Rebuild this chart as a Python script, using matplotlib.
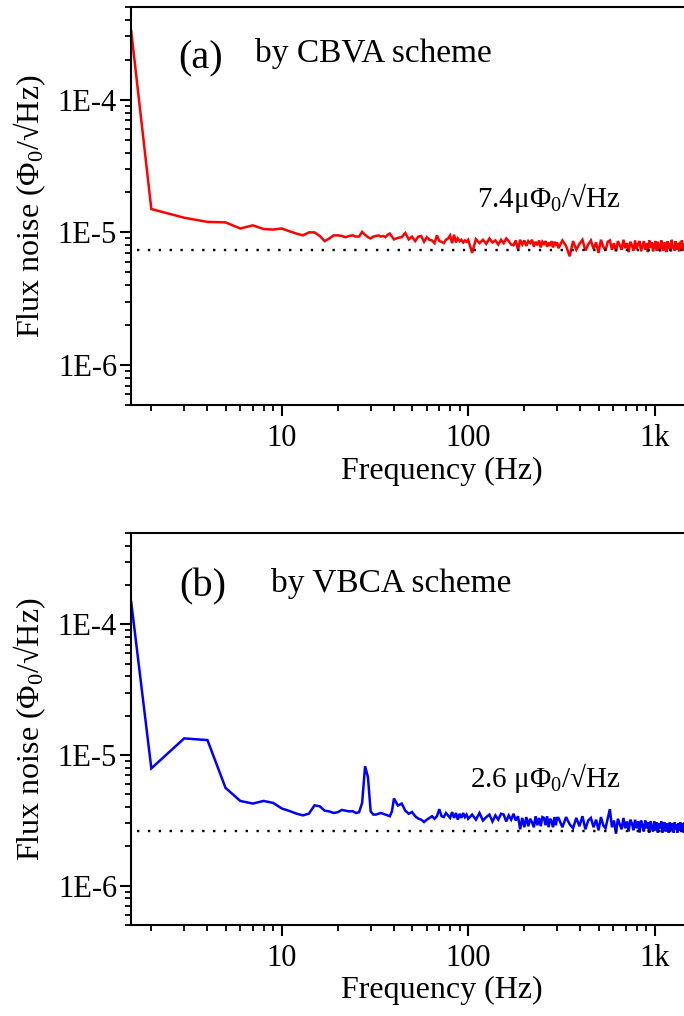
import numpy as np
import matplotlib
matplotlib.use("Agg")
import matplotlib.pyplot as plt
from matplotlib.ticker import FuncFormatter, NullFormatter, LogLocator, FixedLocator

plt.rcParams['font.family'] = ['Liberation Serif', 'DejaVu Serif']
plt.rcParams['mathtext.fontset'] = 'custom'
plt.rcParams['mathtext.rm'] = 'Liberation Serif'
plt.rcParams['mathtext.it'] = 'Liberation Serif:italic'
plt.rcParams['mathtext.bf'] = 'Liberation Serif:bold'

# Frequency grid of the spectra (Hz): fine at low frequency, coarser above
freq_low = np.concatenate([[1.56], np.arange(2, 41)])
freq_mid = np.arange(42, 101, 2)
freq_high = np.arange(105, 301, 5)
freq_top = np.arange(305, 1506, 15)
freq = np.concatenate([freq_low, freq_mid, freq_high, freq_top])

# Flux noise, in micro-Phi0 / sqrt(Hz)
cbva_noise = [
    330, 15.0, 12.9, 12.0, 11.9, 10.7, 11.3, 10.6, 10.5, 10.7,
    10.2, 9.8, 9.5, 10.0, 10.0, 9.4, 8.6, 9.0, 9.5, 9.5,
    9.4, 9.2, 9.4, 9.5, 9.3, 9.3, 10.1, 9.6, 9.2, 9.0,
    9.3, 9.4, 9.5, 9.3, 9.4, 9.2, 9.6, 9.8, 9.3, 8.85,
    # 42 .. 100 Hz
    9.1, 9.2, 9.9, 8.85, 9.3, 8.6, 9.3, 9.4, 8.5, 9.2,
    8.8, 8.7, 8.3, 9.5, 8.6, 8.5, 8.3, 8.8, 9.0, 9.5,
    8.3, 9.6, 8.4, 9.0, 8.6, 8.8, 8.4, 8.7, 8.5, 8.8,
    # 105 .. 300 Hz
    7.0, 8.9, 8.3, 8.8, 8.2, 9.0, 8.4, 8.7, 8.1, 8.8,
    8.3, 9.0, 8.6, 8.1, 8.0, 8.7, 7.4, 8.8, 8.1, 8.7,
    7.9, 8.6, 8.3, 8.8, 7.8, 8.5, 8.0, 8.7, 7.7, 8.5,
    8.2, 8.6, 7.8, 8.4, 7.9, 8.6, 7.7, 8.5, 8.1, 8.4,
    # 305 .. 1505 Hz
    7.6, 8.7, 7.9, 6.6, 8.6, 7.4, 8.2, 8.8, 7.3, 8.1,
    8.7, 7.5, 8.4, 7.0, 8.8, 7.8, 7.3, 8.5, 8.7, 7.4,
    8.3, 7.2, 8.6, 8.0, 7.4, 8.8, 7.6, 8.3, 7.1, 8.5,
    8.0, 7.3, 8.7, 7.5, 8.2, 8.6, 7.2, 7.9, 8.6, 7.4,
    8.3, 7.1, 8.7, 7.7, 8.4, 7.2, 8.1, 8.6, 7.3, 8.5,
    7.6, 7.2, 8.7, 7.9, 7.3, 8.4, 8.1, 7.1, 8.6, 7.5,
    8.3, 7.2, 8.8, 7.6, 8.0, 7.3, 8.6, 7.4, 8.3, 7.9,
    7.2, 8.5, 7.6, 8.7, 7.3, 8.2, 7.5, 8.6, 7.2, 8.4,
    7.8,
]

vbca_noise = [
    148, 7.9, 13.4, 13.0, 5.6, 4.45, 4.25, 4.45, 4.3, 3.9,
    3.73, 3.56, 3.45, 3.56, 4.12, 4.05, 3.75, 3.7, 3.6, 3.65,
    3.8, 3.75, 3.7, 3.72, 3.6, 3.65, 4.3, 8.2, 6.8, 3.7,
    3.5, 3.5, 3.55, 3.6, 3.55, 3.5, 3.45, 3.4, 3.7, 4.65,
    # 42 .. 100 Hz
    4.1, 4.25, 3.75, 3.55, 3.66, 3.4, 3.26, 3.2, 3.07, 3.2,
    3.3, 3.4, 3.25, 3.4, 3.85, 3.4, 3.35, 3.6, 3.45, 3.3,
    3.66, 3.3, 3.6, 3.2, 3.55, 3.3, 3.6, 3.35, 3.5, 3.25,
    # 105 .. 300 Hz
    3.5, 3.2, 3.6, 3.15, 3.35, 3.5, 3.1, 3.45, 3.2, 3.55,
    3.5, 3.1, 3.45, 3.2, 3.55, 3.15, 3.4, 2.7, 3.3, 2.8,
    3.35, 2.85, 3.25, 3.05, 2.8, 3.4, 2.9, 3.3, 2.85, 3.35,
    3.3, 2.9, 3.4, 2.8, 3.25, 3.1, 2.8, 3.35, 2.9, 3.3,
    # 305 .. 1505 Hz
    3.3, 2.8, 3.35, 2.95, 2.75, 3.3, 2.85, 3.4, 2.7, 3.15,
    3.3, 2.8, 3.2, 2.65, 3.35, 2.9, 2.75, 3.25, 3.85, 2.8,
    3.15, 2.5, 3.25, 2.95, 2.7, 3.3, 2.75, 3.1, 2.6, 3.2,
    3.0, 2.65, 3.2, 2.75, 3.1, 2.55, 3.15, 2.9, 2.6, 3.15,
    2.75, 3.05, 2.55, 3.1, 2.8, 2.6, 3.1, 2.65, 3.05, 2.55,
    3.0, 2.75, 3.1, 2.55, 2.95, 3.05, 2.6, 3.0, 2.7, 2.55,
    3.05, 2.65, 3.0, 2.8, 2.55, 3.05, 2.7, 2.95, 2.55, 3.0,
    2.65, 3.05, 2.6, 2.9, 3.0, 2.55, 3.05, 2.7, 2.6, 3.0,
    2.75,
]

# White-noise floor levels quoted on each panel (micro-Phi0 / sqrt(Hz))
floor_levels = [7.4, 2.6]
floor_labels = ["7.4μΦ$_0$/√Hz", "2.6 μΦ$_0$/√Hz"]
panel_tags = ["(a)", "(b)"]
schemes = ["by CBVA scheme", "by VBCA scheme"]
colors = ["#ff0000", "#0000ff"]
series = [cbva_noise, vbca_noise]

x_major = [10, 100, 1000]
x_major_labels = {10: "10", 100: "100", 1000: "1k"}

W, H = 684, 1016
fig = plt.figure(figsize=(W / 100, H / 100), dpi=100)


def px_box(left, top, right, bottom):
    return [left / W, 1 - bottom / H, (right - left) / W, (bottom - top) / H]


axes = [fig.add_axes(px_box(131, 7, 700, 405)),
        fig.add_axes(px_box(131, 533, 700, 925))]

for i, ax in enumerate(axes):
    y = np.asarray(series[i]) * 1e-6
    ax.plot(freq, y, color=colors[i], lw=1.8, solid_joinstyle='miter')
    ax.axhline(floor_levels[i] * 1e-6, xmin=0.01, xmax=1, color='black',
               lw=1.7, ls=(0, (1, 3.6)))
    ax.set_xscale('log')
    ax.set_yscale('log')
    ax.set_xlim(1.556, 1750)
    ax.set_ylim(5e-7, 5e-4)

    ax.xaxis.set_major_locator(FixedLocator(x_major))
    ax.xaxis.set_major_formatter(FuncFormatter(lambda v, p: x_major_labels.get(int(round(v)), "")))
    ax.xaxis.set_minor_locator(LogLocator(base=10, subs=range(2, 10), numticks=20))
    ax.xaxis.set_minor_formatter(NullFormatter())
    ax.yaxis.set_major_locator(LogLocator(base=10, numticks=10))
    ax.yaxis.set_major_formatter(FuncFormatter(lambda v, p: "1E%d" % int(round(np.log10(v)))))
    ax.yaxis.set_minor_locator(LogLocator(base=10, subs=range(2, 10), numticks=20))
    ax.yaxis.set_minor_formatter(NullFormatter())

    ax.tick_params(which='both', direction='out', top=False, right=False, width=1.5)
    ax.tick_params(which='major', length=8, labelsize=22)
    ax.tick_params(axis='y', which='major', pad=2)
    ax.tick_params(axis='x', which='major', pad=6)
    ax.tick_params(which='minor', length=4.5, width=1.3)
    for s in ax.spines.values():
        s.set_linewidth(1.5)

    ax.set_ylabel("Flux noise (Φ$_0$/√Hz)", fontsize=23)
    ax.yaxis.set_label_coords(-0.145, 0.5)
    ax.set_xlabel("Frequency (Hz)", fontsize=23)
    ax.xaxis.set_label_coords(0.547, -0.13)

# Panel tags, scheme names and floor annotations (pixel anchored)
tag_pos = [(178, 68), (179, 596)]
scheme_pos = [(255, 62), (271, 592)]
floor_pos = [(477, 207), (470, 787)]
for i in range(2):
    fig.text(tag_pos[i][0] / W, 1 - tag_pos[i][1] / H, panel_tags[i],
             fontsize=29, ha='left', va='baseline')
    fig.text(scheme_pos[i][0] / W, 1 - scheme_pos[i][1] / H, schemes[i],
             fontsize=24, ha='left', va='baseline')
    fig.text(floor_pos[i][0] / W, 1 - floor_pos[i][1] / H, floor_labels[i],
             fontsize=21, ha='left', va='baseline')

fig.savefig("out.png", dpi=100)
